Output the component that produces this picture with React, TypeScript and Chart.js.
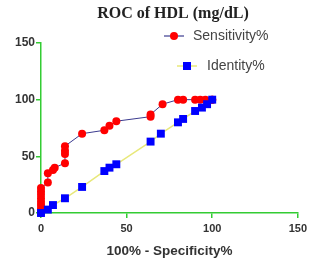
import React, { useEffect, useRef } from "react";
import { Chart, registerables } from "chart.js";

Chart.register(...registerables);

const TITLE = "ROC of HDL (mg/dL)";
const X_TITLE = "100% - Specificity%";
const SENS_LABEL = "Sensitivity%";
const IDENT_LABEL = "Identity%";

const sensX = [0, 0, 0, 0, 0, 0, 0, 0, 0, 4, 4, 7, 8, 14, 14, 14, 14, 24, 37, 40, 44, 64, 64, 71, 80, 83, 90, 93, 96, 100, 100];
const sensY = [0, 2, 4, 7, 10, 13, 16, 19, 22, 27, 35, 38, 40, 44, 52, 55, 59, 70, 73, 77, 81, 85, 87, 96, 100, 100, 100, 100, 100, 100, 100];

const identX = [0, 4, 7, 14, 24, 37, 40, 44, 64, 70, 80, 83, 90, 94, 97, 100];
const identY = [0, 3, 7, 13, 23, 37, 40, 43, 63, 70, 80, 83, 90, 93, 96, 100];

const AXIS_MIN = 0;
const AXIS_MAX = 150;
const AXIS_STEP = 50;

const GREEN = "#33cc33";
const NAVY = "#3b3b8f";
const YELLOW = "#e8e87a";
const RED = "#ff0000";
const BLUE = "#0000ff";

const overlayPlugin = {
  id: "overlay",
  afterDraw(chart: any) {
    const ctx = chart.ctx;
    ctx.save();
    // Title
    ctx.fillStyle = "#222222";
    ctx.font = "bold 16px 'Liberation Serif', 'Times New Roman', serif";
    ctx.textAlign = "center";
    ctx.textBaseline = "middle";
    ctx.fillText(TITLE, 173, 14);
    // Sensitivity legend
    ctx.strokeStyle = NAVY;
    ctx.lineWidth = 1.2;
    ctx.beginPath();
    ctx.moveTo(164, 36);
    ctx.lineTo(184, 36);
    ctx.stroke();
    ctx.fillStyle = RED;
    ctx.beginPath();
    ctx.arc(174, 36, 4, 0, Math.PI * 2);
    ctx.fill();
    // Identity legend
    ctx.strokeStyle = YELLOW;
    ctx.lineWidth = 1.5;
    ctx.beginPath();
    ctx.moveTo(177, 66);
    ctx.lineTo(197, 66);
    ctx.stroke();
    ctx.fillStyle = BLUE;
    ctx.fillRect(183, 62, 8, 8);
    ctx.fillStyle = "#444444";
    ctx.font = "14px 'Liberation Sans', Arial, sans-serif";
    ctx.textBaseline = "middle";
    ctx.textAlign = "left";
    ctx.fillText(SENS_LABEL, 193, 36);
    ctx.fillText(IDENT_LABEL, 207, 66);
    ctx.restore();
  },
};

export default function App() {
  const ref = useRef<HTMLCanvasElement | null>(null);

  useEffect(() => {
    document.body.style.margin = "0";
    const canvas = ref.current;
    if (!canvas) return;
    const sens = sensX.map((x, i) => ({ x, y: sensY[i] }));
    const ident = identX.map((x, i) => ({ x, y: identY[i] }));
    const chart = new Chart(canvas, {
      type: "scatter",
      data: {
        datasets: [
          {
            label: IDENT_LABEL,
            data: ident,
            showLine: true,
            borderColor: YELLOW,
            borderWidth: 1.5,
            backgroundColor: BLUE,
            pointBackgroundColor: BLUE,
            pointBorderWidth: 0,
            pointStyle: "rect",
            pointRadius: 5.6,
          },
          {
            label: SENS_LABEL,
            data: sens,
            showLine: true,
            borderColor: NAVY,
            borderWidth: 1,
            backgroundColor: RED,
            pointBackgroundColor: RED,
            pointBorderWidth: 0,
            pointStyle: "circle",
            pointRadius: 4,
          },
        ],
      },
      options: {
        responsive: false,
        animation: false,
        clip: false as any,
        layout: { padding: { left: 0, right: 10, top: 43, bottom: 0 } },
        plugins: {
          legend: { display: false },
          tooltip: { enabled: false },
          title: { display: false },
        },
        scales: {
          x: {
            type: "linear",
            min: AXIS_MIN,
            max: AXIS_MAX,
            ticks: {
              stepSize: AXIS_STEP,
              color: "#333333",
              font: { family: "'Liberation Sans', Arial, sans-serif", size: 11, weight: "bold" },
              padding: 4,
              maxRotation: 0,
            },
            grid: { drawOnChartArea: false, drawTicks: true, tickLength: 5, color: GREEN, lineWidth: 1.5 },
            border: { color: GREEN, width: 1.5 },
            title: {
              display: true,
              text: X_TITLE,
              color: "#333333",
              font: { family: "'Liberation Sans', Arial, sans-serif", size: 13.5, weight: "bold" },
              padding: { top: 3, bottom: 0 },
            },
            afterFit: (s: any) => {
              s.height = 46;
            },
          },
          y: {
            type: "linear",
            min: AXIS_MIN,
            max: AXIS_MAX,
            ticks: {
              stepSize: AXIS_STEP,
              color: "#333333",
              font: { family: "'Liberation Sans', Arial, sans-serif", size: 12, weight: "bold" },
              padding: 1,
            },
            grid: { drawOnChartArea: false, drawTicks: true, tickLength: 5, color: GREEN, lineWidth: 1.5 },
            border: { color: GREEN, width: 1.5 },
            afterFit: (s: any) => {
              s.width = 41;
            },
          },
        },
      },
      plugins: [overlayPlugin],
    });
    return () => chart.destroy();
  }, []);

  return (
    <div style={{ position: "absolute", left: 0, top: 0, width: 311, height: 259, background: "#ffffff" }}>
      <canvas ref={ref} width={311} height={259} />
    </div>
  );
}
